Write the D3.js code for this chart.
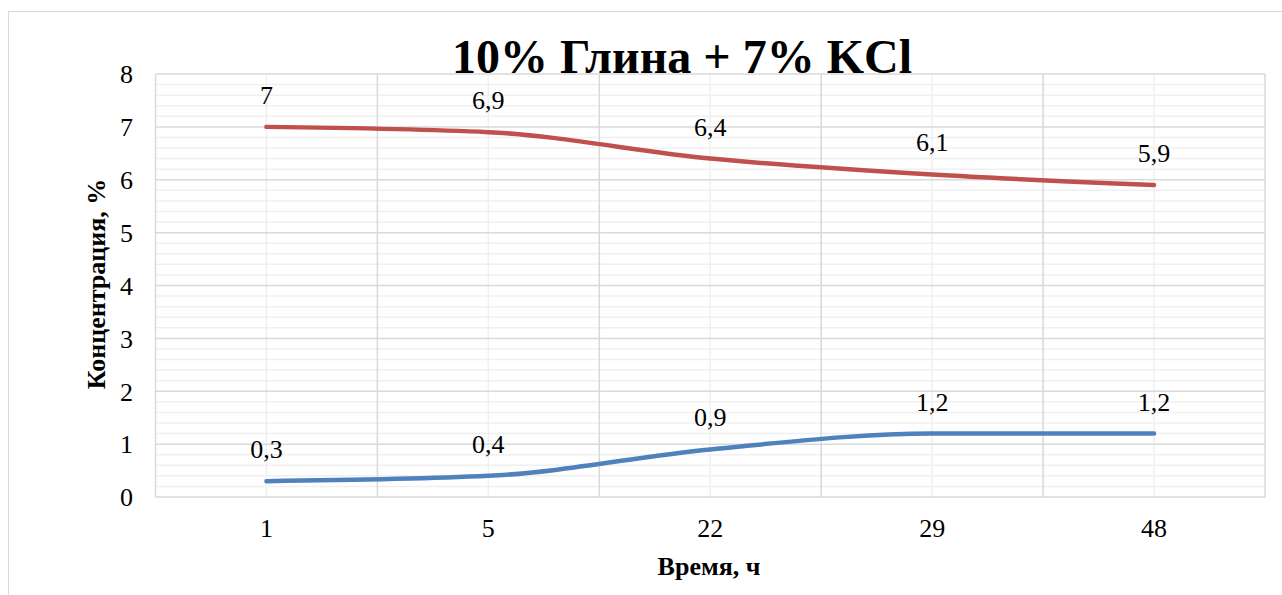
<!DOCTYPE html>
<html><head><meta charset="utf-8">
<script src="https://cdn.jsdelivr.net/npm/d3@7"></script>
<style>body{margin:0;background:#fff;} svg{display:block;}</style>
</head><body>
<script>
const categories = ["1", "5", "22", "29", "48"];
const seriesRed = [7, 6.9, 6.4, 6.1, 5.9];
const seriesBlue = [0.3, 0.4, 0.9, 1.2, 1.2];
const yTicks = [0, 1, 2, 3, 4, 5, 6, 7, 8];
const titleText = "10% Глина + 7% KCl";
const xTitle = "Время, ч";
const yTitle = "Концентрация, %";

const W = 1282, H = 595;
const svg = d3.select("body").append("svg").attr("width", W).attr("height", H);
const font = "'Liberation Serif','Times New Roman',serif";

svg.append("rect").attr("x", 8.5).attr("y", 11.5).attr("width", W + 10).attr("height", H + 10)
  .attr("fill", "#fff").attr("stroke", "#d9d9d9").attr("stroke-width", 1);

const L = 155.5, R = 1265, T = 74, B = 497;
const x = d3.scaleBand().domain(categories).range([L, R]);
const y = d3.scaleLinear().domain([0, 8]).range([B, T]);

const g = svg.append("g");
const minor = d3.range(0, 8.001, 0.2).filter(v => Math.abs(v - Math.round(v)) > 1e-6);
g.selectAll(".hmin").data(minor).join("line")
  .attr("x1", L).attr("x2", R).attr("y1", d => y(d)).attr("y2", d => y(d))
  .attr("stroke", "#f0f0f0").attr("stroke-width", 1.5);
g.selectAll(".vmin").data(categories).join("line")
  .attr("x1", d => x(d) + x.bandwidth() / 2).attr("x2", d => x(d) + x.bandwidth() / 2)
  .attr("y1", T).attr("y2", B).attr("stroke", "#f0f0f0").attr("stroke-width", 1.5);
g.selectAll(".hmaj").data(yTicks).join("line")
  .attr("x1", L).attr("x2", R).attr("y1", d => y(d)).attr("y2", d => y(d))
  .attr("stroke", "#d9d9d9").attr("stroke-width", 1.5);
const bounds = categories.map(c => x(c)).concat([R]);
g.selectAll(".vmaj").data(bounds).join("line")
  .attr("x1", d => d).attr("x2", d => d).attr("y1", T).attr("y2", B)
  .attr("stroke", "#d9d9d9").attr("stroke-width", 1.5);

const yAxis = d3.axisLeft(y).tickValues(yTicks).tickSize(0).tickPadding(0).tickFormat(d3.format("d"));
const ya = svg.append("g").attr("transform", `translate(133,0)`).call(yAxis);
ya.select(".domain").remove();
ya.attr("font-family", font);
ya.selectAll("text").attr("font-family", font).attr("font-size", 26).attr("fill", "#000").attr("dy", "0.34em");

const xAxis = d3.axisBottom(x).tickSize(0).tickPadding(0);
const xa = svg.append("g").attr("transform", `translate(0,537)`).call(xAxis);
xa.select(".domain").remove();
xa.attr("font-family", font);
xa.selectAll("text").attr("font-family", font).attr("font-size", 26).attr("fill", "#000").attr("dy", 0);

const cx = d => x(d) + x.bandwidth() / 2;
const line = d3.line().x((d, i) => cx(categories[i])).y(d => y(d)).curve(d3.curveMonotoneX);

[[seriesBlue, "#4f81bd"], [seriesRed, "#c0504d"]].forEach(([data, color]) => {
  svg.append("path").datum(data).attr("d", line).attr("fill", "none")
    .attr("stroke", color).attr("stroke-width", 4.5).attr("stroke-linecap", "round");
  svg.append("g").selectAll("text").data(data).join("text")
    .attr("x", (d, i) => cx(categories[i])).attr("y", d => y(d) - 23)
    .attr("text-anchor", "middle").attr("font-family", font).attr("font-size", 26)
    .attr("fill", "#000").text(d => String(d).replace(".", ","));
});

svg.append("text").attr("x", 682).attr("y", 73).attr("text-anchor", "middle")
  .attr("font-family", font).attr("font-size", 48).attr("font-weight", "bold").text(titleText);
svg.append("text").attr("x", 709).attr("y", 575).attr("text-anchor", "middle")
  .attr("font-family", font).attr("font-size", 26).attr("font-weight", "bold").text(xTitle);
svg.append("text").attr("transform", "translate(105,284) rotate(-90)").attr("text-anchor", "middle")
  .attr("font-family", font).attr("font-size", 26).attr("font-weight", "bold").text(yTitle);
</script>
</body></html>
